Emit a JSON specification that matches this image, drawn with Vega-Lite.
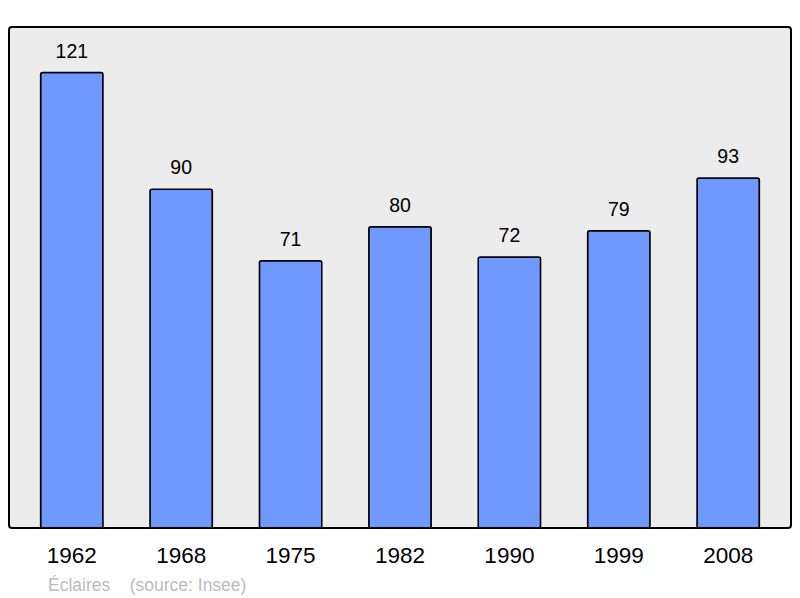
{
  "$schema": "https://vega.github.io/schema/vega-lite/v6.json",
  "autosize": "none",
  "width": 782,
  "height": 501,
  "padding": {"left": 9, "top": 27, "right": 9, "bottom": 70},
  "background": "white",
  "config": {
    "font": "Liberation Sans",
    "view": {"stroke": "black", "strokeWidth": 2, "fill": "#ececec", "cornerRadius": 3}
  },
  "title": {
    "text": "Éclaires\u00a0\u00a0\u00a0\u00a0(source: Insee)",
    "orient": "bottom",
    "anchor": "start",
    "frame": "group",
    "dx": 39,
    "offset": 10,
    "fontSize": 17.5,
    "fontWeight": "normal",
    "color": "#bbbbbb"
  },
  "data": {
    "values": [
      {"year": "1962", "pop": 121},
      {"year": "1968", "pop": 90},
      {"year": "1975", "pop": 71},
      {"year": "1982", "pop": 80},
      {"year": "1990", "pop": 72},
      {"year": "1999", "pop": 79},
      {"year": "2008", "pop": 93}
    ]
  },
  "encoding": {
    "x": {
      "field": "year",
      "type": "ordinal",
      "title": null,
      "scale": {"paddingInner": 0.43, "paddingOuter": 0.289},
      "axis": {"domain": false, "ticks": false, "labelAngle": 0, "labelFontSize": 22.5, "labelColor": "black", "labelPadding": 16.5}
    },
    "y": {
      "field": "pop",
      "type": "quantitative",
      "scale": {"domain": [0, 133.1]},
      "axis": null
    }
  },
  "layer": [
    {
      "mark": {"type": "bar", "fill": "#7099ff", "stroke": "black", "strokeWidth": 1.5, "cornerRadius": 2}
    },
    {
      "mark": {"type": "text", "fontSize": 19.5, "dy": -21, "baseline": "middle", "color": "black"},
      "encoding": {"text": {"field": "pop"}}
    }
  ]
}
